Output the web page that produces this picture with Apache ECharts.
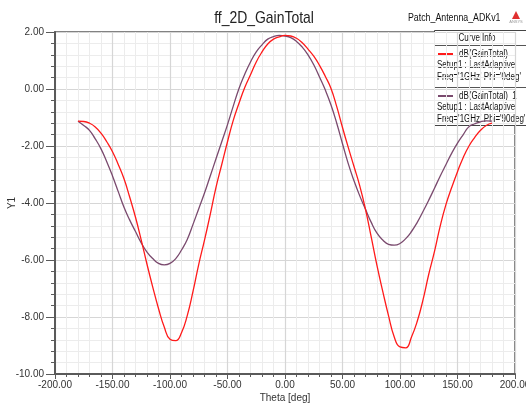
<!DOCTYPE html>
<html>
<head>
<meta charset="utf-8">
<script src="https://cdn.jsdelivr.net/npm/echarts@6/dist/echarts.min.js"></script>
<style>
  html, body { margin: 0; padding: 0; background: #fff; }
  #chart { width: 526px; height: 403px; }
</style>
</head>
<body>
<div id="chart"></div>
<script>
// Far-field gain cuts of the patch antenna at 1 GHz
const theta = [-180,-175,-170,-165,-160,-155,-150,-145,-140,-135,-130,-125,-120,-115,-110,-105,-100,-95,-90,-85,-80,-75,-70,-65,-60,-55,-50,-45,-40,-35,-30,-25,-20,-15,-10,-5,0,5,10,15,20,25,30,35,40,45,50,55,60,65,70,75,80,85,90,95,100,105,110,115,120,125,130,135,140,145,150,155,160,165,170,175,180];

// dB(GainTotal), Phi = 0deg
const gainPhi0 = [-1.13,-1.14,-1.20,-1.33,-1.55,-1.85,-2.20,-2.65,-3.15,-3.80,-4.50,-5.30,-6.15,-6.95,-7.70,-8.35,-8.78,-8.83,-8.55,-7.95,-7.10,-6.15,-5.30,-4.40,-3.45,-2.65,-1.85,-1.10,-0.50,0.05,0.50,0.95,1.30,1.58,1.75,1.83,1.88,1.86,1.78,1.62,1.40,1.15,0.83,0.45,0.02,-0.62,-1.35,-2.05,-2.72,-3.40,-4.22,-5.20,-6.20,-7.10,-7.95,-8.70,-9.05,-9.08,-8.70,-8.15,-7.40,-6.50,-5.70,-4.80,-4.05,-3.45,-2.90,-2.40,-2.00,-1.70,-1.45,-1.28,-1.20];

// dB(GainTotal)_1, Phi = 90deg
const gainPhi90 = [-1.13,-1.28,-1.45,-1.75,-2.10,-2.55,-3.05,-3.60,-4.15,-4.60,-5.00,-5.40,-5.72,-5.95,-6.12,-6.17,-6.12,-5.95,-5.65,-5.28,-4.75,-4.20,-3.65,-3.05,-2.45,-1.85,-1.25,-0.60,0.02,0.52,0.95,1.30,1.55,1.75,1.84,1.88,1.86,1.80,1.67,1.47,1.20,0.85,0.42,-0.03,-0.56,-1.20,-1.92,-2.62,-3.22,-3.75,-4.22,-4.68,-5.06,-5.30,-5.45,-5.48,-5.42,-5.25,-5.00,-4.68,-4.30,-3.90,-3.48,-3.05,-2.65,-2.25,-1.90,-1.60,-1.32,-1.22,-1.15,-1.12,-1.13];

const seriesNames = ['dB(GainTotal)', 'dB(GainTotal)_1'];
const seriesColors = ['#ff1a1a', '#7a4a6e'];
const setupText = ['Setup1 : LastAdaptive', 'Setup1 : LastAdaptive'];
const freqText = ["Freq='1GHz' Phi='0deg'", "Freq='1GHz' Phi='90deg'"];

const FONT = '"Liberation Sans", Arial, sans-serif';
const AXIS = '#5a5a5a';
const NARROW = 0.8;   // horizontal squeeze for the condensed header/legend lettering

const chart = echarts.init(document.getElementById('chart'), null, { renderer: 'canvas' });

function pairs(xs, ys) { return xs.map((x, i) => [x, ys[i]]); }

// condensed text helper for graphic elements
function ntext(str, x, y, size, align) {
  return {
    type: 'text', x: x, y: y, scaleX: NARROW, originX: 0, originY: 0,
    style: { text: str, fontFamily: FONT, fontSize: size, fill: '#111',
             align: align || 'left', verticalAlign: 'middle' }
  };
}

const legendX = 434, legendY = 30, legendW = 100, legendH = 95;

const option = {
  animation: false,
  backgroundColor: '#ffffff',
  grid: {
    left: 55, right: 11, top: 32, bottom: 29,
    outerBoundsMode: 'none',
    show: true, borderColor: AXIS, borderWidth: 1.5, backgroundColor: '#fff'
  },
  xAxis: {
    type: 'value', min: -200, max: 200, interval: 50,
    name: 'Theta [deg]', nameLocation: 'middle', nameGap: 19, nameMoveOverlap: false,
    nameTextStyle: { fontFamily: FONT, fontSize: 10, color: '#333' },
    axisLine: { show: true, onZero: false, lineStyle: { color: AXIS, width: 2 } },
    axisTick: { show: true, length: 5, lineStyle: { color: AXIS, width: 1 } },
    minorTick: { show: true, splitNumber: 5, length: 3, lineStyle: { color: AXIS, width: 1 } },
    splitLine: { show: true, lineStyle: { color: '#d6d6d6', width: 1.2 } },
    minorSplitLine: { show: true, lineStyle: { color: '#ececec', width: 1 } },
    axisLabel: { margin: 6, fontFamily: FONT, fontSize: 10, color: '#333', formatter: v => v.toFixed(2) }
  },
  yAxis: {
    type: 'value', min: -10, max: 2, interval: 2,
    name: 'Y1', nameLocation: 'middle', nameGap: 38, nameMoveOverlap: false,
    nameTextStyle: { fontFamily: FONT, fontSize: 10, color: '#333' },
    axisLine: { show: true, onZero: false, lineStyle: { color: AXIS, width: 2 } },
    axisTick: { show: true, length: 9, lineStyle: { color: AXIS, width: 1 } },
    minorTick: { show: true, splitNumber: 5, length: 4, lineStyle: { color: AXIS, width: 1 } },
    splitLine: { show: true, lineStyle: { color: '#d6d6d6', width: 1.2 } },
    minorSplitLine: { show: true, lineStyle: { color: '#ececec', width: 1 } },
    axisLabel: { margin: 11, fontFamily: FONT, fontSize: 10, color: '#333', formatter: v => v.toFixed(2) }
  },
  series: [
    {
      name: seriesNames[0], type: 'line', data: pairs(theta, gainPhi0),
      smooth: 0.5, showSymbol: false, z: 3,
      lineStyle: { color: seriesColors[0], width: 1.3 }, itemStyle: { color: seriesColors[0] }
    },
    {
      name: seriesNames[1], type: 'line', data: pairs(theta, gainPhi90),
      smooth: 0.5, showSymbol: false, z: 2,
      lineStyle: { color: seriesColors[1], width: 1.3 }, itemStyle: { color: seriesColors[1] }
    }
  ],
  graphic: [
    // plot title
    {
      type: 'text', x: 264, y: 18, scaleX: 0.82, originX: 0, originY: 0,
      style: { text: 'ff_2D_GainTotal', fontFamily: FONT, fontSize: 17, fill: '#222',
               align: 'center', verticalAlign: 'middle' }
    },
    // project name and vendor mark
    ntext('Patch_Antenna_ADKv1', 408, 18, 11),
    {
      type: 'polygon', z: 10,
      shape: { points: [[516, 11], [512, 19], [520, 19]] },
      style: { fill: '#e03030' }
    },
    {
      type: 'text', x: 516, y: 22,
      style: { text: 'ANSYS', fontFamily: FONT, fontSize: 4, fill: '#999', align: 'center', verticalAlign: 'middle' }
    },
    // curve info box
    {
      type: 'group', z: 20,
      children: [
        { type: 'rect', shape: { x: legendX + 0.5, y: legendY + 0.5, width: legendW, height: legendH },
          style: { fill: '#ffffff', stroke: '#444', lineWidth: 1 } },
        ntext('Curve Info', 477, 38, 10, 'center'),
        { type: 'line', shape: { x1: legendX, y1: 45.5, x2: legendX + legendW, y2: 45.5 }, style: { stroke: '#555', lineWidth: 1 } },
        { type: 'line', shape: { x1: legendX, y1: 87.5, x2: legendX + legendW, y2: 87.5 }, style: { stroke: '#555', lineWidth: 1 } },
        { type: 'line', shape: { x1: 438, y1: 54, x2: 453, y2: 54 }, style: { stroke: seriesColors[0], lineWidth: 2 } },
        ntext(seriesNames[0], 459, 54, 10),
        ntext(setupText[0], 437, 65.5, 10),
        ntext(freqText[0], 437, 77, 10),
        { type: 'line', shape: { x1: 438, y1: 96, x2: 453, y2: 96 }, style: { stroke: seriesColors[1], lineWidth: 2 } },
        ntext(seriesNames[1], 459, 96, 10),
        ntext(setupText[1], 437, 107.5, 10),
        ntext(freqText[1], 437, 119, 10)
      ]
    }
  ]
};

chart.setOption(option);
</script>
</body>
</html>
